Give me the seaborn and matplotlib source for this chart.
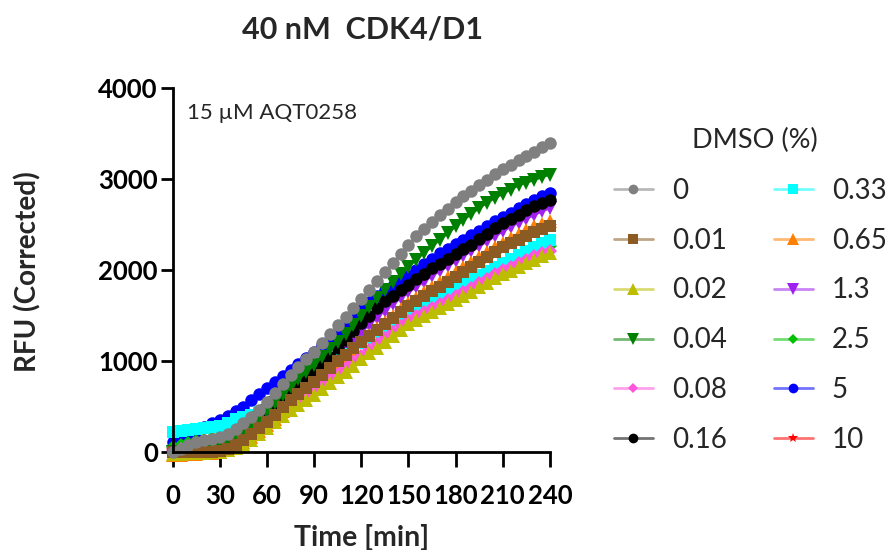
import matplotlib
matplotlib.use("Agg")
import matplotlib.pyplot as plt
from matplotlib.lines import Line2D
from matplotlib.colors import to_rgba
import seaborn as sns

# sampling times (min)
time_min = list(range(0, 245, 5))

dmso_labels = ['0', '0.01', '0.02', '0.04', '0.08', '0.16',
               '0.33', '0.65', '1.3', '2.5', '5', '10']

# RFU (corrected), every 5 min
rfu_0 = [0, 40, 80, 115, 135, 150, 165, 205, 260, 318, 390, 470, 556, 650, 750, 850, 935,
         1020, 1105, 1200, 1300, 1395, 1490, 1585, 1680, 1780, 1880, 1980, 2080, 2180, 2280,
         2370, 2450, 2530, 2608, 2675, 2745, 2810, 2870, 2930, 2995, 3055, 3110, 3160, 3210,
         3255, 3300, 3350, 3400]
rfu_001 = [0, 0, 0, 0, 0, 5, 10, 40, 85, 135, 200, 265, 337, 415, 495, 575, 645, 710, 776,
           850, 925, 1000, 1070, 1140, 1210, 1275, 1340, 1405, 1470, 1540, 1605, 1660, 1715,
           1770, 1820, 1875, 1930, 1985, 2035, 2090, 2145, 2200, 2250, 2295, 2335, 2375, 2415,
           2450, 2480]
rfu_002 = [-20, -15, -10, -10, -5, 0, 5, 20, 50, 90, 140, 200, 264, 335, 400, 465, 520, 575,
           630, 695, 760, 825, 880, 945, 1020, 1085, 1150, 1215, 1280, 1345, 1405, 1450, 1495,
           1540, 1582, 1625, 1670, 1715, 1760, 1810, 1860, 1910, 1955, 1995, 2035, 2075, 2110,
           2150, 2185]
rfu_004 = [0, 5, 10, 15, 25, 40, 60, 100, 160, 230, 300, 375, 450, 540, 630, 715, 800, 880,
           960, 1045, 1130, 1215, 1300, 1400, 1500, 1600, 1690, 1780, 1870, 1955, 2035, 2115,
           2190, 2260, 2333, 2405, 2480, 2550, 2615, 2680, 2740, 2790, 2840, 2885, 2930, 2960,
           2990, 3020, 3050]
rfu_008 = [20, 40, 60, 80, 100, 110, 120, 140, 170, 210, 260, 300, 340, 400, 460, 520, 575,
           630, 685, 745, 805, 865, 925, 990, 1060, 1125, 1190, 1255, 1320, 1385, 1445, 1495,
           1540, 1585, 1625, 1670, 1715, 1760, 1805, 1855, 1905, 1955, 2000, 2040, 2080, 2115,
           2150, 2185, 2215]
rfu_016 = [0, 5, 10, 15, 20, 30, 45, 80, 130, 190, 260, 330, 405, 480, 560, 640, 720, 800,
           880, 965, 1050, 1140, 1230, 1330, 1420, 1500, 1580, 1660, 1720, 1780, 1840, 1900,
           1960, 2020, 2070, 2125, 2180, 2235, 2280, 2340, 2400, 2460, 2515, 2560, 2610, 2660,
           2700, 2740, 2775]
rfu_033 = [227, 237, 247, 256, 265, 275, 290, 320, 365, 385, 410, 440, 470, 520, 580, 640,
           700, 760, 820, 880, 950, 1010, 1075, 1140, 1200, 1260, 1320, 1380, 1440, 1500, 1550,
           1580, 1610, 1660, 1710, 1760, 1810, 1855, 1900, 1945, 1990, 2035, 2080, 2120, 2165,
           2210, 2250, 2295, 2335]
rfu_065 = [-30, -25, -20, -15, -10, -5, 5, 30, 70, 115, 170, 230, 300, 370, 450, 530, 600,
           665, 735, 810, 890, 970, 1050, 1130, 1210, 1285, 1360, 1430, 1500, 1570, 1635, 1695,
           1755, 1810, 1865, 1920, 1975, 2030, 2085, 2140, 2195, 2250, 2300, 2350, 2395, 2440,
           2480, 2510, 2540]
rfu_13 = [0, 5, 10, 15, 20, 25, 35, 65, 110, 165, 230, 300, 370, 445, 520, 600, 680, 755,
          830, 910, 990, 1070, 1150, 1235, 1320, 1400, 1480, 1555, 1625, 1690, 1755, 1815, 1875,
          1935, 1990, 2045, 2100, 2155, 2205, 2260, 2315, 2370, 2425, 2475, 2520, 2565, 2605,
          2645, 2680]
rfu_25 = [60, 80, 100, 120, 140, 160, 180, 210, 250, 300, 360, 420, 480, 545, 610, 675, 740,
          800, 860, 920, 980, 1040, 1100, 1160, 1220, 1280, 1340, 1395, 1450, 1500, 1545, 1585,
          1625, 1665, 1705, 1745, 1785, 1830, 1870, 1915, 1955, 2000, 2040, 2080, 2120, 2160,
          2195, 2230, 2260]
rfu_5 = [110, 140, 180, 230, 280, 320, 350, 400, 450, 500, 570, 635, 703, 770, 835, 904, 970,
         1040, 1105, 1175, 1245, 1320, 1400, 1480, 1570, 1650, 1720, 1780, 1830, 1885, 1940,
         2000, 2065, 2125, 2187, 2235, 2285, 2335, 2385, 2435, 2485, 2535, 2585, 2630, 2680,
         2725, 2770, 2810, 2850]
rfu_10 = [20, 20, 20, 20, 25, 30, 40, 65, 105, 150, 210, 275, 345, 420, 500, 575, 650, 720,
          790, 860, 935, 1005, 1075, 1145, 1215, 1285, 1350, 1415, 1480, 1545, 1610, 1665, 1720,
          1775, 1825, 1880, 1935, 1990, 2040, 2095, 2150, 2200, 2250, 2295, 2340, 2380, 2420,
          2455, 2485]

series = [rfu_0, rfu_001, rfu_002, rfu_004, rfu_008, rfu_016,
          rfu_033, rfu_065, rfu_13, rfu_25, rfu_5, rfu_10]

colors = ['#808080', '#8c5a23', '#bdbd00', '#008000', '#ff55dd', '#000000',
          '#00ffff', '#ff8000', '#a020f0', '#00c000', '#0000ff', '#ff0000']
markers = ['o', 's', '^', 'v', 'D', 'o', 's', '^', 'v', 'D', 'o', '*']
msizes = [9, 8.5, 9.5, 9.5, 7, 9, 8.5, 9.5, 9.5, 7, 9, 10]
leg_sizes = [7, 7, 8, 8, 5.5, 7, 7, 8, 8, 5.5, 7, 7.5]

sns.set_style('ticks')
plt.rcParams['font.family'] = ['Lato', 'DejaVu Sans']

fig = plt.figure(figsize=(8.96, 5.5), dpi=100)
ax = fig.add_axes([0.1927, 0.1776, 0.4211, 0.6624])

# first series drawn last so it sits on top
for lab, vals, col, mk, ms in reversed(list(zip(dmso_labels, series, colors, markers, msizes))):
    sns.lineplot(x=time_min, y=vals, ax=ax, color=col, marker=mk, markersize=ms,
                 markeredgewidth=0, linewidth=1.5, clip_on=False, legend=False)

ax.set_xlim(0, 240)
ax.set_ylim(0, 4000)
ax.set_xticks(range(0, 241, 30))
ax.set_yticks([0, 1000, 2000, 3000, 4000])
for side in ['top', 'right']:
    ax.spines[side].set_visible(False)
for side in ['left', 'bottom']:
    ax.spines[side].set_linewidth(2)
    ax.spines[side].set_color('black')
ax.tick_params(axis='x', width=2, length=11, pad=12, labelsize=18.5, colors='black')
ax.tick_params(axis='y', width=2, length=8.6, pad=2, labelsize=18.5, colors='black')
for t in ax.get_xticklabels() + ax.get_yticklabels():
    t.set_fontweight('bold')

ax.set_xlabel('Time [min]', fontsize=20.5, fontweight='bold')
ax.xaxis.set_label_coords(0.5, -0.198)
ax.set_ylabel('')
fig.text(28 / 896, 1 - 272 / 550, 'RFU (Corrected)', rotation=90, ha='center', va='center',
         fontsize=20, fontweight='bold')

ax.text(0.038, 0.932, '15 µM AQT0258', transform=ax.transAxes, fontsize=16,
        va='center', ha='left')

fig.text(362 / 896, 1 - 30 / 550, '40 nM  CDK4/D1', ha='center', va='center',
         fontsize=22, fontweight='bold')

# legend title drawn separately, entries below it in two columns
fig.text(755 / 896, 1 - 140 / 550, 'DMSO (%)', ha='center', va='center', fontsize=19.5)
handles = []
for lab, col, mk, ms in zip(dmso_labels, colors, markers, leg_sizes):
    handles.append(Line2D([0], [0], color=to_rgba(col, 0.55), linewidth=2, marker=mk,
                          markersize=ms, markerfacecolor=col, markeredgewidth=0))
leg = fig.legend(handles, dmso_labels, ncol=2, fontsize=20, frameon=False, loc='upper left',
                 bbox_to_anchor=(589 / 896, 1 - 153 / 550), handlelength=1.4,
                 handletextpad=0.68, columnspacing=1.7, labelspacing=0.855)

fig.savefig('out.png', dpi=100)
